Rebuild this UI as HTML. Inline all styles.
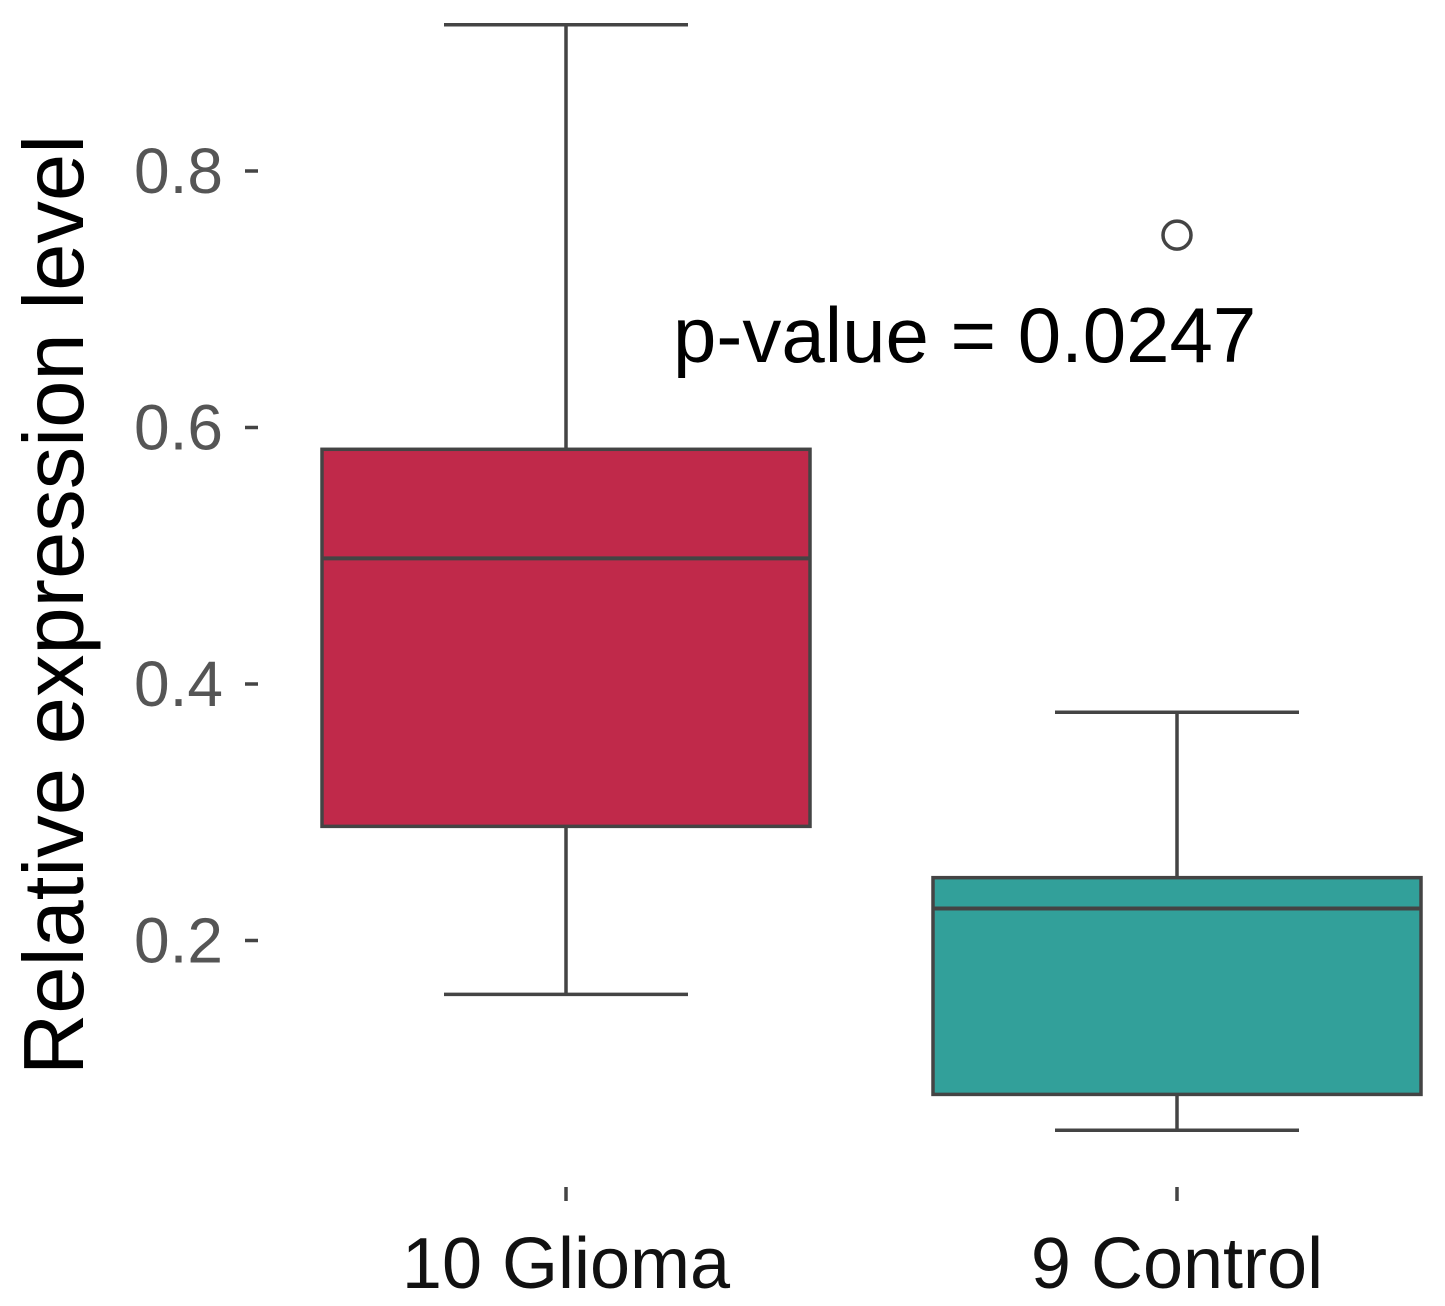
<!DOCTYPE html>
<html><head><meta charset="utf-8"><style>
html,body{margin:0;padding:0;background:#fff}
svg{display:block;font-family:"Liberation Sans",Arial,sans-serif}
</style></head><body>
<svg id="chart" width="1445" height="1306" viewBox="0 0 1445 1306"></svg>
<script>
const categories = ["10 Glioma", "9 Control"];
const whiskerLow = [0.158, 0.052];
const q1Values = [0.289, 0.080];
const medians = [0.498, 0.225];
const q3Values = [0.583, 0.249];
const whiskerHigh = [0.914, 0.378];
const outliers = [[], [0.750]];
const yTicks = [0.2, 0.4, 0.6, 0.8];
const yTickLabels = ["0.2", "0.4", "0.6", "0.8"];
const fills = ["#C0294A", "#32A09A"];

const svg = document.getElementById('chart');
const NS = 'http://www.w3.org/2000/svg';
const y = v => 171 + (0.8 - v) * 1282.5;
const x = i => 566 + i * 611;
const boxHalf = 244, capHalf = 122;
function mk(tag, attrs, parent) {
  const e = document.createElementNS(NS, tag);
  for (const k in attrs) e.setAttribute(k, attrs[k]);
  (parent || svg).appendChild(e);
  return e;
}
const stroke = '#444';
const sw = 3.5;

yTicks.forEach((t, i) => {
  const ln = mk('line', {x1: 245, x2: 258, y1: y(t), y2: y(t), stroke: '#444', 'stroke-width': sw});
  
  
  const tx = mk('text', {x: 223, y: y(t) + 22, 'text-anchor': 'end', 'font-size': 64, fill: '#555'});
  tx.textContent = yTickLabels[i];
  
  
});

categories.forEach((c, i) => {
  const cx = x(i);
  const g = mk('g', {});
  
  
  mk('line', {x1: cx, x2: cx, y1: y(whiskerHigh[i]), y2: y(q3Values[i]), stroke, 'stroke-width': sw}, g);
  mk('line', {x1: cx, x2: cx, y1: y(q1Values[i]), y2: y(whiskerLow[i]), stroke, 'stroke-width': sw}, g);
  mk('line', {x1: cx - capHalf, x2: cx + capHalf, y1: y(whiskerHigh[i]), y2: y(whiskerHigh[i]), stroke, 'stroke-width': sw}, g);
  mk('line', {x1: cx - capHalf, x2: cx + capHalf, y1: y(whiskerLow[i]), y2: y(whiskerLow[i]), stroke, 'stroke-width': sw}, g);
  mk('rect', {x: cx - boxHalf, y: y(q3Values[i]), width: boxHalf * 2, height: y(q1Values[i]) - y(q3Values[i]), fill: fills[i], stroke, 'stroke-width': sw}, g);
  mk('line', {x1: cx - boxHalf, x2: cx + boxHalf, y1: y(medians[i]), y2: y(medians[i]), stroke, 'stroke-width': 4}, g);
  outliers[i].forEach(o => {
    const p = mk('circle', {cx: cx, cy: y(o), r: 14, fill: '#fff', stroke, 'stroke-width': sw});
    
    
  });
  const tk = mk('line', {x1: cx, x2: cx, y1: 1187, y2: 1201, stroke: '#444', 'stroke-width': sw});
  
  
  const lb = mk('text', {x: cx, y: 1288, 'text-anchor': 'middle', 'font-size': 72, fill: '#111'});
  lb.textContent = c;
  
  
});

const yt = mk('text', {x: 0, y: 0, transform: 'translate(83,605) rotate(-90)', 'text-anchor': 'middle', 'font-size': 85, fill: '#000'});
yt.textContent = 'Relative expression level';



const pv = mk('text', {x: 673, y: 362, 'font-size': 78, fill: '#000'});
pv.textContent = 'p-value = 0.0247';


</script>
</body></html>
